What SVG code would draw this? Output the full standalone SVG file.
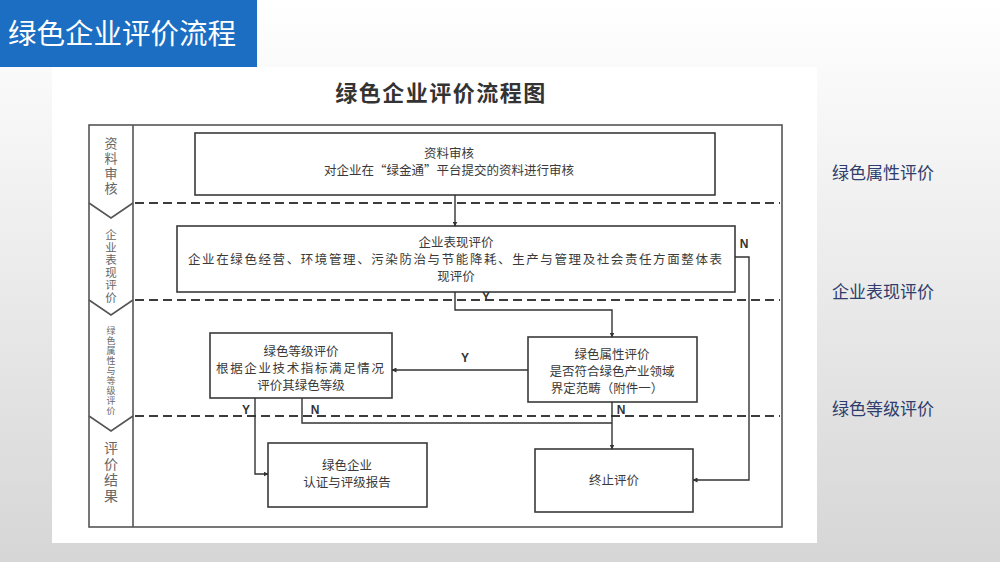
<svg xmlns="http://www.w3.org/2000/svg" width="1000" height="562" viewBox="0 0 1000 562">
<defs>
<linearGradient id="bg" x1="0" y1="0" x2="0" y2="1">
<stop offset="0" stop-color="#ffffff"/>
<stop offset="1" stop-color="#d6d6d6"/>
</linearGradient>
<marker id="arr" viewBox="0 0 10 10" refX="9" refY="5" markerWidth="5" markerHeight="5" orient="auto" markerUnits="userSpaceOnUse">
<path d="M0,0 L10,5 L0,10 z" fill="#333"/>
</marker>
<style>
.box{fill:#fff;stroke:#3a3a3a;stroke-width:1.6}
.frame{fill:none;stroke:#555;stroke-width:1.6}
.dash{fill:none;stroke:#3c3c3c;stroke-width:2;stroke-dasharray:9 5}
.conn{fill:none;stroke:#333;stroke-width:1.4}
.t{font-family:"Noto Sans CJK SC","Noto Sans",sans-serif;font-size:12.5px;fill:#3a3a3a;text-anchor:middle}
.lbl{font-family:"Liberation Sans","Noto Sans",sans-serif;font-size:12px;font-weight:bold;fill:#333;text-anchor:middle}
.side{font-family:"Noto Sans CJK SC","Noto Sans",sans-serif;fill:#666;writing-mode:vertical-rl;text-anchor:start}
.right{font-family:"Noto Sans CJK SC","Noto Sans",sans-serif;font-size:17px;fill:#2e3d6c}
</style>
</defs>
<rect x="0" y="0" width="1000" height="562" fill="url(#bg)"/>
<rect x="52" y="67" width="765" height="476" fill="#ffffff"/>
<g id="header">
<rect x="0" y="0" width="257" height="67" fill="#1b6ec2"/>
<text x="8" y="44" font-family="Noto Sans CJK SC, Noto Sans, sans-serif" font-size="28.5" fill="#ffffff">绿色企业评价流程</text>
</g>
<g id="title">
<text x="441" y="101" font-family="Noto Sans CJK SC, Noto Sans, sans-serif" font-size="22" font-weight="bold" fill="#333" text-anchor="middle" letter-spacing="1.5">绿色企业评价流程图</text>
</g>
<g id="frame">
<rect class="frame" x="89" y="125" width="693" height="402"/>
<line class="frame" x1="133" y1="125" x2="133" y2="527"/>
<polyline class="frame" points="89,203 111,218 133,203"/>
<polyline class="frame" points="89,300 111,315 133,300"/>
<polyline class="frame" points="89,416 111,431 133,416"/>
<line class="dash" x1="135" y1="203" x2="780" y2="203"/>
<line class="dash" x1="135" y1="300" x2="780" y2="300"/>
<line class="dash" x1="135" y1="416" x2="780" y2="416"/>
</g>
<g id="lane1">
<text class="side" x="111" y="137" font-size="13" letter-spacing="2">资料审核</text>
</g>
<g id="lane2">
<text class="side" x="111" y="229" font-size="11.5" letter-spacing="1">企业表现评价</text>
</g>
<g id="lane3">
<text class="side" x="111" y="326" font-size="9" letter-spacing="1">绿色属性与等级评价</text>
</g>
<g id="lane4">
<text class="side" x="111" y="441" font-size="14" letter-spacing="2">评价结果</text>
</g>
<g id="n1">
<rect class="box" x="195" y="133" width="520" height="62"/>
<text class="t" x="449" y="158">资料审核</text>
<text class="t" x="449" y="175">对企业在“绿金通”平台提交的资料进行审核</text>
</g>
<g id="n2">
<rect class="box" x="177" y="226" width="558" height="66"/>
<text class="t" x="456" y="247">企业表现评价</text>
<text class="t" x="455" y="264" textLength="534" lengthAdjust="spacing">企业在绿色经营、环境管理、污染防治与节能降耗、生产与管理及社会责任方面整体表</text>
<text class="t" x="456" y="281">现评价</text>
</g>
<g id="n3">
<rect class="box" x="210" y="333" width="182" height="65"/>
<text class="t" x="301" y="356">绿色等级评价</text>
<text class="t" x="300" y="373" textLength="168" lengthAdjust="spacing">根据企业技术指标满足情况</text>
<text class="t" x="301" y="390">评价其绿色等级</text>
</g>
<g id="n4">
<rect class="box" x="528" y="337" width="169" height="65"/>
<text class="t" x="612" y="359">绿色属性评价</text>
<text class="t" x="612" y="376">是否符合绿色产业领域</text>
<text class="t" x="607" y="393">界定范畴（附件一）</text>
</g>
<g id="n5">
<rect class="box" x="268" y="443" width="159" height="64"/>
<text class="t" x="347" y="470">绿色企业</text>
<text class="t" x="347" y="487">认证与评级报告</text>
</g>
<g id="n6">
<rect class="box" x="535" y="449" width="158" height="63"/>
<text class="t" x="614" y="485">终止评价</text>
</g>
<g id="connectors">
<line class="conn" x1="455" y1="195" x2="455" y2="226" marker-end="url(#arr)"/>
<polyline class="conn" points="455,292 455,310 612,310 612,337" marker-end="url(#arr)"/>
<line class="conn" x1="528" y1="370" x2="392" y2="370" marker-end="url(#arr)"/>
<line class="conn" x1="612" y1="402" x2="612" y2="449" marker-end="url(#arr)"/>
<polyline class="conn" points="255,398 255,474 268,474" marker-end="url(#arr)"/>
<polyline class="conn" points="302,398 302,423 612,423"/>
<polyline class="conn" points="735,257 749,257 749,480 693,480" marker-end="url(#arr)"/>
<text class="lbl" x="486" y="301">Y</text>
<text class="lbl" x="465" y="362">Y</text>
<text class="lbl" x="246" y="414">Y</text>
<text class="lbl" x="315" y="414">N</text>
<text class="lbl" x="621" y="414">N</text>
<text class="lbl" x="744" y="248">N</text>
</g>
<g id="right-labels">
<text class="right" x="832" y="179">绿色属性评价</text>
<text class="right" x="832" y="298">企业表现评价</text>
<text class="right" x="832" y="415">绿色等级评价</text>
</g>
</svg>
